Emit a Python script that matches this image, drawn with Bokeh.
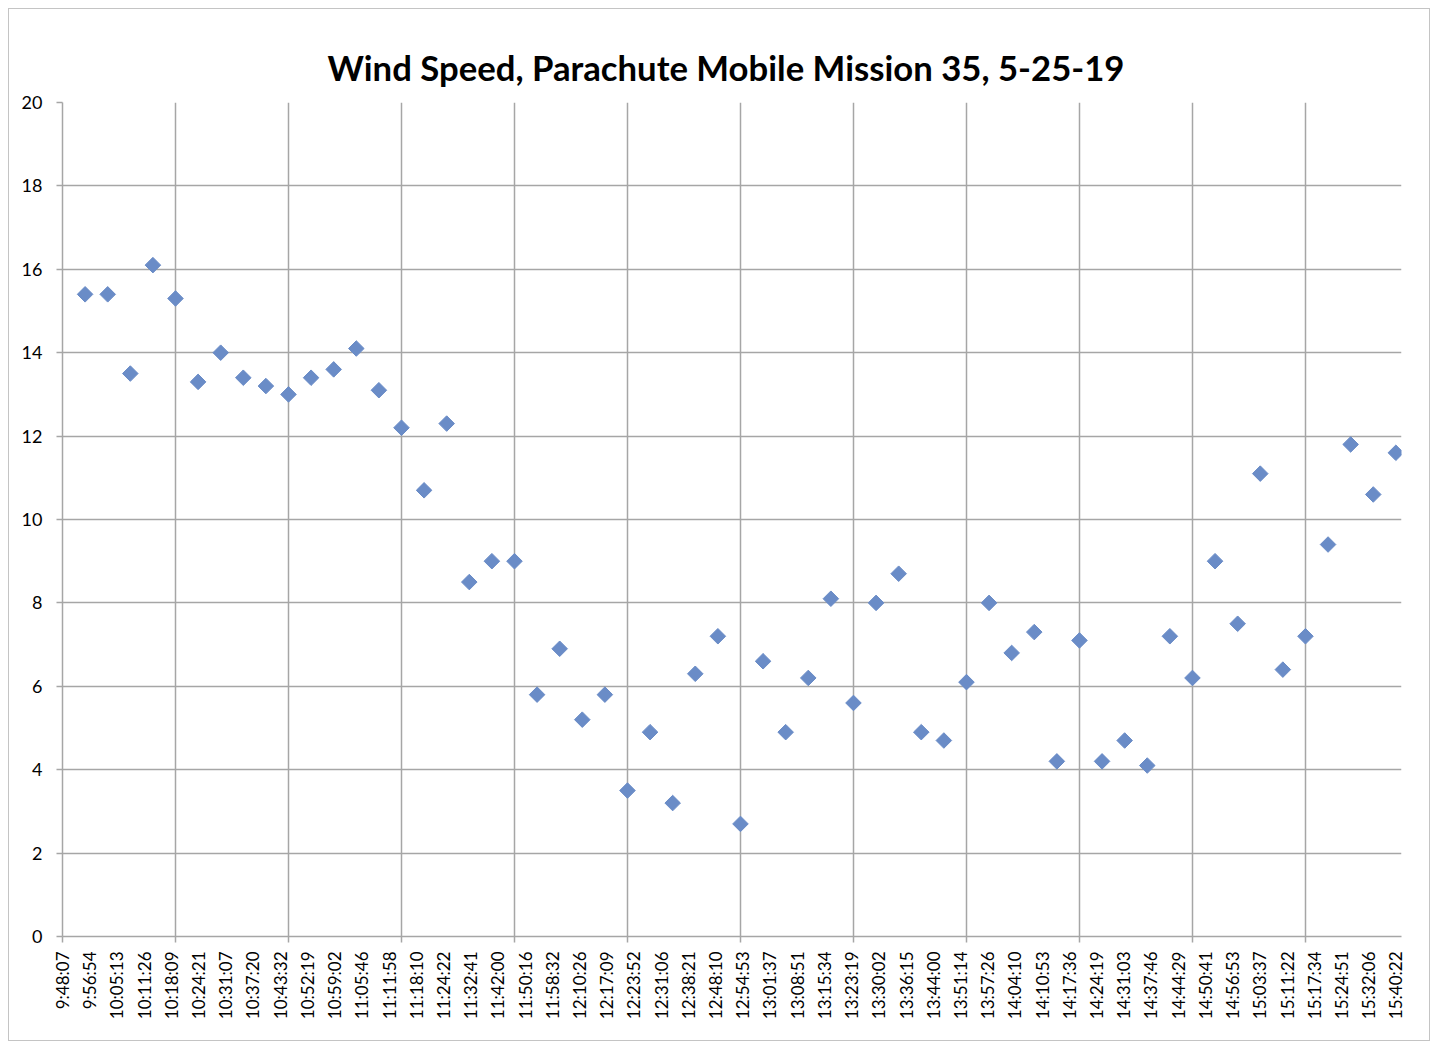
import numpy as np
from bokeh.plotting import figure
from bokeh.models import Range1d, FixedTicker, CustomJSTickFormatter, InlineStyleSheet
from bokeh.embed import file_html
from bokeh.resources import INLINE

title_text = "Wind Speed, Parachute Mobile Mission 35, 5-25-19"

time_labels = [
    "9:48:07", "9:56:54", "10:05:13", "10:11:26", "10:18:09", "10:24:21", "10:31:07",
    "10:37:20", "10:43:32", "10:52:19", "10:59:02", "11:05:46", "11:11:58", "11:18:10",
    "11:24:22", "11:32:41", "11:42:00", "11:50:16", "11:58:32", "12:10:26", "12:17:09",
    "12:23:52", "12:31:06", "12:38:21", "12:48:10", "12:54:53", "13:01:37", "13:08:51",
    "13:15:34", "13:23:19", "13:30:02", "13:36:15", "13:44:00", "13:51:14", "13:57:26",
    "14:04:10", "14:10:53", "14:17:36", "14:24:19", "14:31:03", "14:37:46", "14:44:29",
    "14:50:41", "14:56:53", "15:03:37", "15:11:22", "15:17:34", "15:24:51", "15:32:06",
    "15:40:22",
]

wind_speed = [
    15.4, 15.4, 13.5, 16.1, 15.3, 13.3, 14.0, 13.4, 13.2, 13.0,
    13.4, 13.6, 14.1, 13.1, 12.2, 10.7, 12.3, 8.5, 9.0, 9.0,
    5.8, 6.9, 5.2, 5.8, 3.5, 4.9, 3.2, 6.3, 7.2, 2.7,
    6.6, 4.9, 6.2, 8.1, 5.6, 8.0, 8.7, 4.9, 4.7, 6.1,
    8.0, 6.8, 7.3, 4.2, 7.1, 4.2, 4.7, 4.1, 7.2, 6.2,
    9.0, 7.5, 11.1, 6.4, 7.2, 9.4, 11.8, 10.6, 11.6,
]

y_ticks = [0, 2, 4, 6, 8, 10, 12, 14, 16, 18, 20]

n = len(wind_speed)
m = len(time_labels)
x = np.arange(1, n + 1)
label_pos = [i * n / (m - 1) for i in range(m)]
grid_pos = list(range(0, n + 1, 5))

GRID = "#a6a6a6"
FONT = "Lato"

p = figure(width=1430, height=1041, output_backend="svg", toolbar_location=None,
           x_range=Range1d(0, n + 0.25), y_range=Range1d(0, 20),
           min_border_left=62, min_border_right=29, min_border_top=102, min_border_bottom=105,
           title=title_text)

p.stylesheets.append(InlineStyleSheet(css="""
:host { position: relative; }
:host::after {
  content: "";
  position: absolute;
  left: 8px; top: 8px;
  width: 1422px; height: 1033px;
  box-sizing: border-box;
  border: 1.5px solid #c4c4c4;
  pointer-events: none;
}
"""))

p.title.align = "left"
p.title.offset = 265
p.title.text_font = FONT
p.title.text_font_style = "bold"
p.title.text_font_size = "34.7px"
p.title.text_color = "black"
p.title.standoff = 30

p.outline_line_color = None
p.background_fill_color = "white"
p.border_fill_color = "white"

# x axis
xa = p.xaxis[0]
xa.ticker = FixedTicker(ticks=label_pos, minor_ticks=grid_pos)
xa.formatter = CustomJSTickFormatter(args=dict(labels=time_labels, n=n, m=m),
                                     code="return labels[Math.round(tick * (m - 1) / n)];")
xa.major_label_orientation = np.pi / 2
xa.major_tick_out = 0
xa.major_tick_in = 0
xa.minor_tick_out = 6
xa.minor_tick_in = 0
xa.minor_tick_line_color = GRID
xa.minor_tick_line_width = 1.5
xa.axis_line_color = GRID
xa.axis_line_width = 1.5
xa.major_label_standoff = 9
xa.major_label_text_font = FONT
xa.major_label_text_font_size = "17px"
xa.major_label_text_color = "black"

# y axis
ya = p.yaxis[0]
ya.ticker = FixedTicker(ticks=y_ticks)
ya.major_tick_out = 6
ya.major_tick_in = 0
ya.minor_tick_out = 0
ya.minor_tick_in = 0
ya.major_tick_line_color = GRID
ya.major_tick_line_width = 1.5
ya.axis_line_color = GRID
ya.axis_line_width = 1.5
ya.major_label_standoff = 14
ya.major_label_text_font = FONT
ya.major_label_text_font_size = "18px"
ya.major_label_text_color = "black"

p.xgrid.ticker = FixedTicker(ticks=grid_pos)
p.xgrid.grid_line_color = GRID
p.xgrid.grid_line_width = 1.5
p.ygrid.grid_line_color = GRID
p.ygrid.grid_line_width = 1.5

p.scatter(x, wind_speed, marker="square", angle=np.pi / 4, size=11,
          fill_color="#6a8cc7", line_color="#6a8cc7")

open("out.html", "w").write(file_html(p, INLINE))
